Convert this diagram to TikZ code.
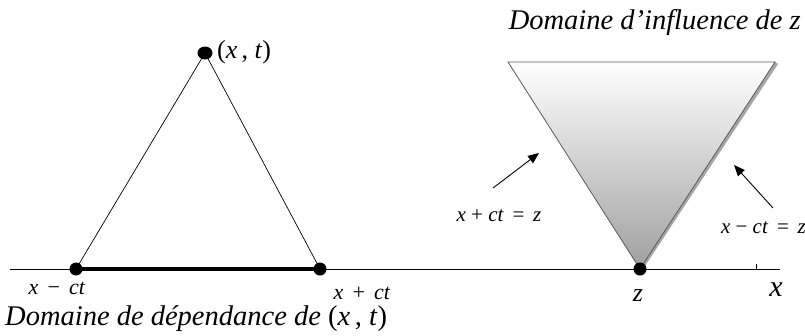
\documentclass[tikz,border=0pt]{standalone}
\usepackage{fontspec}
\setmainfont{Liberation Serif}
\usetikzlibrary{arrows.meta,shapes.geometric}
\begin{document}
\begin{tikzpicture}[x=1bp,y=-1bp,
  dot/.style={circle,fill=black,inner sep=0pt,minimum size=13bp},
  lbl/.style={inner sep=0pt,font=\fontsize{22bp}{24bp}\selectfont},
  big/.style={inner sep=0pt,font=\fontsize{28.5bp}{31bp}\selectfont\itshape},
  arr/.style={-{Triangle[length=11bp,width=9bp]},line width=0.9pt}]
\useasboundingbox (0,0) rectangle (805,335);
% axis
\coordinate (axL) at (10,269);
\coordinate (axR) at (780,269);
\draw[line width=0.9pt] (axL) -- (axR);
\coordinate (tk) at (756,269);
\draw[line width=0.7pt] (tk) -- ++(0,-5);
% dependence triangle
\node[ellipse,fill=black,inner sep=0pt,minimum width=15bp,minimum height=13bp] (A) at (205,53) {};
\node[dot] (L) at (76,269) {};
\node[dot] (R) at (320,269) {};
\draw[line width=0.7pt] (A.center) -- (L.center);
\draw[line width=0.7pt] (A.center) -- (R.center);
\draw[line width=3.5pt] (L.center) -- (R.center);
\node[lbl,anchor=west,font=\fontsize{26bp}{28bp}\selectfont] at (217,52) {(\textit{x}\,, \textit{t})};
\node[lbl] at (57,288) {\textit{x} \,−\, \textit{ct}};
\node[lbl] at (362,293) {\textit{x} \,+\, \textit{ct}};
\node[big,anchor=west] at (5,319) {Domaine de dépendance de \upshape(\textit{x}\,, \textit{t})};
% influence cone
\coordinate (TL) at (508,62);
\coordinate (TR) at (775,62);
\coordinate (B) at (640,269);
\fill[gray!70] ([xshift=3bp,yshift=-2bp]TR) -- ([xshift=3bp]B) -- (B) -- (TR) -- cycle;
\shade[top color=white,bottom color=gray!75,draw=gray!70!black,line width=0.8pt] (TL) -- (TR) -- (B) -- cycle;
\node[dot] (Z) at (640,269) {};
\node[lbl,font=\fontsize{26bp}{28bp}\selectfont\itshape] at (638,296) {z};
\node[lbl,font=\fontsize{30bp}{32bp}\selectfont\itshape] at (776,290) {x};
\node[big,anchor=east] at (801,22) {Domaine d'influence de \textit{z}};
% arrows
\coordinate (a1s) at (493,188);
\coordinate (a1e) at (539,153);
\draw[arr] (a1s) -- (a1e);
\coordinate (a2s) at (773,208);
\coordinate (a2e) at (734,165);
\draw[arr] (a2s) -- (a2e);
\node[lbl,font=\fontsize{21bp}{24bp}\selectfont] at (499,216) {\textit{x} + \textit{ct} \,=\, \textit{z}};
\node[lbl,font=\fontsize{21bp}{24bp}\selectfont,anchor=east] at (806,228) {\textit{x} − \textit{ct} \,=\, \textit{z}};
\end{tikzpicture}
\end{document}
